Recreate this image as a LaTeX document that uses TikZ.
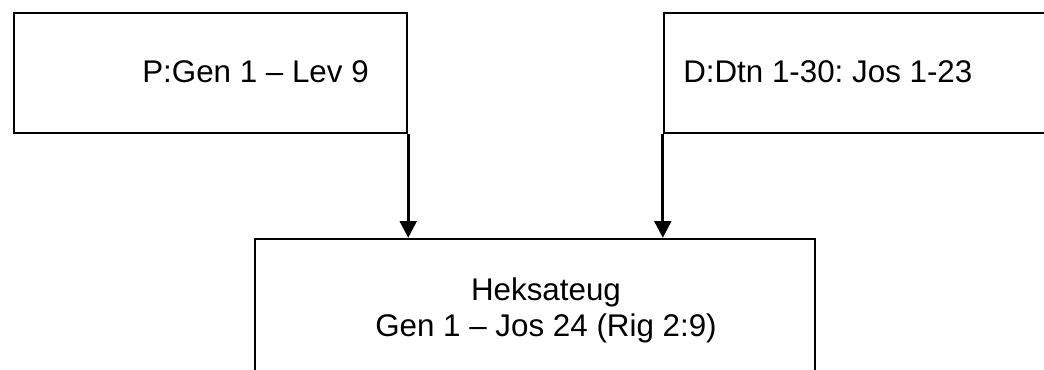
\documentclass[tikz,border=0pt]{standalone}
\usepackage{fontspec}
\setmainfont{Liberation Sans}
\usepackage{tikz}
\usetikzlibrary{arrows.meta}
\frenchspacing

\begin{document}
\begin{tikzpicture}[x=0.75pt,y=0.75pt,>={Triangle[width=12.5pt,length=12.5pt]},
    box/.style={draw, line width=1.8pt, rectangle, inner sep=0pt},
    txt/.style={anchor=base, inner sep=0pt, font=\fontsize{23.5pt}{28pt}\selectfont}]
    \useasboundingbox (0,0) rectangle (1044,369);
    \clip (0,0) rectangle (1044,369);

    % source boxes
    \node[box, minimum width=294.75pt, minimum height=90pt] (pbox) at (210.5,296) {};
    \node[box, minimum width=327pt, minimum height=90pt] (dbox) at (882,296) {};
    \node[txt, anchor=base west] (ptext) at (142,287) {P:Gen 1 – Lev 9};
    \node[txt, anchor=base west] (dtext) at (683,287) {D:Dtn 1-30: Jos 1-23};

    % result box
    \node[box, minimum width=420pt, minimum height=127.5pt] (hbox) at (535,45) {};
    \node[txt] (htitle) at (546,69) {Heksateug};
    \node[txt] (hrange) at (546,32.3) {Gen 1 – Jos 24 (Rig 2:9)};

    \draw [->, line width=2pt] (pbox.south east) -- (pbox.south east |- hbox.north);
    \draw [->, line width=2pt] (dbox.south west) -- (dbox.south west |- hbox.north);
\end{tikzpicture}
\end{document}
